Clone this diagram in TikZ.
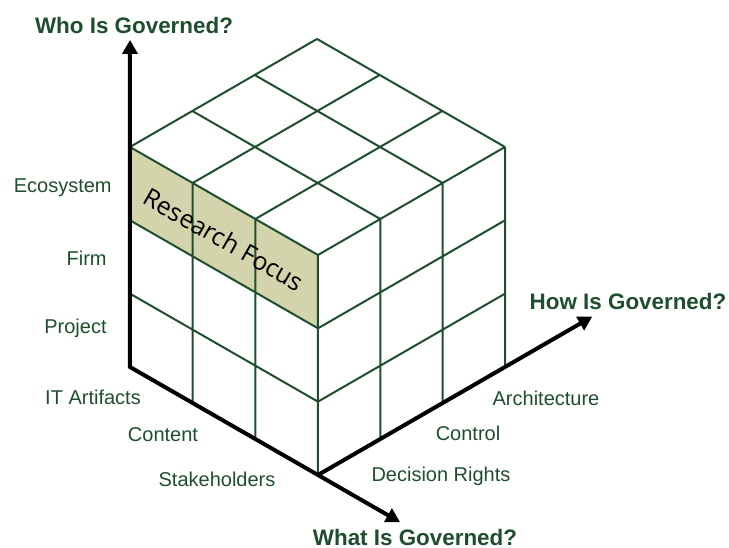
\documentclass[tikz,border=0pt]{standalone}
\usepackage{fontspec}
\setmainfont{Liberation Sans}
\newfontfamily\focusfont{Open Sans}
\usepackage{tikz}
\usetikzlibrary{arrows.meta, positioning}

\definecolor{govgreen}{RGB}{30,78,46}
\definecolor{focusfill}{RGB}{211,211,172}

\tikzset{
  grid/.style={draw=govgreen, line width=1pt, line join=round},
  axis/.style={line width=2pt, {Triangle[length=7pt,width=7.5pt]}-{Triangle[length=7pt,width=7.5pt]}},
  oneaxis/.style={line width=2pt, -{Triangle[length=7pt,width=7.5pt]}},
  lab/.style={text=govgreen, font=\fontsize{10}{12}\selectfont, inner sep=0pt},
  title/.style={text=govgreen, font=\fontsize{11.2}{13}\selectfont\bfseries, inner sep=0pt}
}

\begin{document}
\begin{tikzpicture}[x={(31.33pt,-18pt)}, y={(0pt,36.67pt)}, z={(31.17pt,18pt)}]
  \useasboundingbox (-65pt,-90pt) rectangle (299.5pt,183.5pt);

  \coordinate (origin) at (0,0,0);
  \coordinate (front) at (3,0,0);
  \coordinate (whotip) at (0,4.46,0);
  \coordinate (whattip) at (4.31,0,0);
  \coordinate (howtip) at (3,0,4.4);

  % shaded top row of the left face
  \fill[focusfill] (0,2,0) -- (3,2,0) -- (3,3,0) -- (0,3,0) -- cycle;

  % left face
  \draw[grid] (0,0,0) -- (0,3,0) (1,0,0) -- (1,3,0) (2,0,0) -- (2,3,0) (3,0,0) -- (3,3,0)
    (0,0,0) -- (3,0,0) (0,1,0) -- (3,1,0) (0,2,0) -- (3,2,0) (0,3,0) -- (3,3,0);
  % right face
  \draw[grid] (3,0,1) -- (3,3,1) (3,0,2) -- (3,3,2) (3,0,3) -- (3,3,3)
    (3,1,0) -- (3,1,3) (3,2,0) -- (3,2,3) (3,3,0) -- (3,3,3);
  % top face
  \draw[grid] (0,3,0) -- (0,3,3) (1,3,0) -- (1,3,3) (2,3,0) -- (2,3,3)
    (0,3,1) -- (3,3,1) (0,3,2) -- (3,3,2) (0,3,3) -- (3,3,3);

  \node[rotate=-29.9, inner sep=0pt, font=\focusfont\fontsize{12.5}{14}\selectfont] (focus) at (1.5,2.48,0) {Research Focus};

  % axes
  \draw[axis] (whotip) -- (origin) -- (whattip);
  \draw[oneaxis] (front) -- (howtip);

  \node[title] (who) at (2pt,171pt) {Who Is Governed?};
  \node[title] (what) at (142.5pt,-85pt) {What Is Governed?};
  \node[title] (how) at (249pt,33pt) {How Is Governed?};

  \node[lab, anchor=east] (eco) at (-9pt,89.5pt) {Ecosystem};
  \node[lab, anchor=east] (firm) at (-11.5pt,54.5pt) {Firm};
  \node[lab, anchor=east] (proj) at (-11.5pt,19.5pt) {Project};

  \node[lab] (it) at (-18.5pt,-15pt) {IT Artifacts};
  \node[lab] (content) at (16.5pt,-34pt) {Content};
  \node[lab] (stake) at (43.5pt,-56pt) {Stakeholders};

  \node[lab] (rights) at (155.5pt,-54.5pt) {Decision Rights};
  \node[lab] (control) at (169pt,-33pt) {Control};
  \node[lab] (arch) at (208pt,-15.5pt) {Architecture};
\end{tikzpicture}
\end{document}
